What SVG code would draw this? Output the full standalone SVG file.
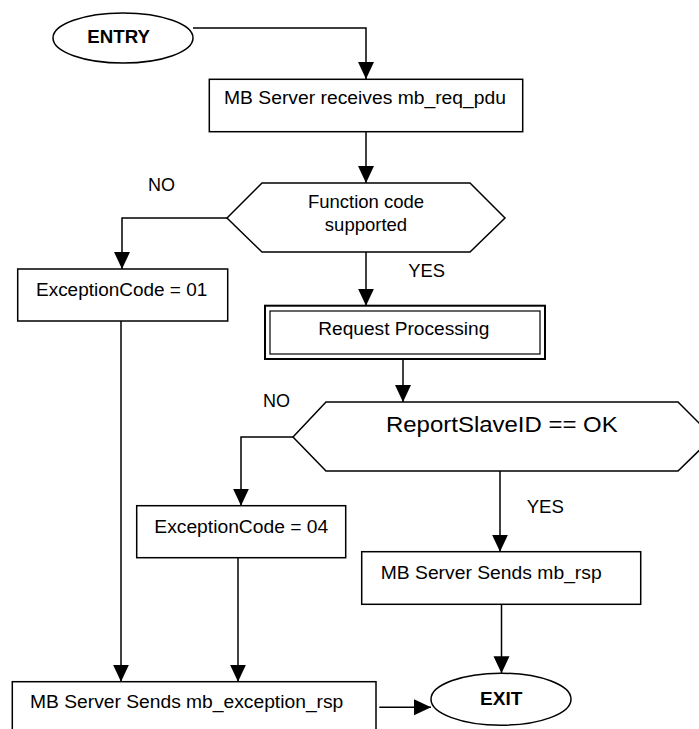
<svg xmlns="http://www.w3.org/2000/svg" width="699" height="729" viewBox="0 0 699 729">
<style>
  .shape { fill: #ffffff; stroke: #000000; stroke-width: 1.5; }
  .thick { fill: #ffffff; stroke: #000000; stroke-width: 2; }
  .thin { fill: none; stroke: #000000; stroke-width: 1.2; }
  .conn { fill: none; stroke: #000000; stroke-width: 1.5; marker-end: url(#arrow); }
  text { font-family: "Liberation Sans", Arial, sans-serif; font-size: 17.5px; fill: #000000; }
  .bold { font-weight: bold; }
  .big { font-size: 22px; }
  .mid { font-size: 18.5px; }
</style>
<defs>
  <marker id="arrow" markerUnits="userSpaceOnUse" markerWidth="18" markerHeight="18" refX="17" refY="8" orient="auto">
    <path d="M0,0 L17,8 L0,16 z" fill="#000000"/>
  </marker>
</defs>
<rect x="0" y="0" width="699" height="729" fill="#ffffff"/>

<g id="connectors">
  <path class="conn" d="M193,28 H366 V79"/>
  <path class="conn" d="M366,131.7 V183"/>
  <path class="conn" d="M227,218 H122 V269"/>
  <path class="conn" d="M366,252 V305.7"/>
  <path class="conn" d="M403,359 V402"/>
  <path class="conn" d="M293,437 H241 V505.7"/>
  <path class="conn" d="M500,471 V551.7"/>
  <path class="conn" d="M121,321 V681.7"/>
  <path class="conn" d="M238,557.7 V681.7"/>
  <path class="conn" d="M501.5,604.3 V673.3"/>
  <path class="conn" d="M379.3,707.3 H431"/>
</g>

<g id="entry">
  <ellipse class="shape" cx="123" cy="38" rx="70" ry="25"/>
  <text class="bold" x="87.3" y="43.3" textLength="62.7" lengthAdjust="spacingAndGlyphs">ENTRY</text>
</g>

<g id="receive">
  <rect class="shape" x="209.3" y="79.3" width="313.4" height="52.4"/>
  <text x="224" y="104.3" textLength="282" lengthAdjust="spacingAndGlyphs">MB Server receives mb_req_pdu</text>
</g>

<g id="function-check">
  <polygon class="shape" points="227,218 262,183 470,183 505,218 470,252 262,252"/>
  <text class="mid" x="366" y="208.3" text-anchor="middle">Function code</text>
  <text class="mid" x="366" y="231" text-anchor="middle">supported</text>
</g>

<g id="label-no-1"><text x="148" y="191" textLength="27" lengthAdjust="spacingAndGlyphs">NO</text></g>
<g id="label-yes-1"><text x="408.3" y="277.3" textLength="36.7" lengthAdjust="spacingAndGlyphs">YES</text></g>

<g id="exception-01">
  <rect class="shape" x="17.7" y="269" width="210" height="52"/>
  <text x="36" y="295.7" textLength="171.3" lengthAdjust="spacingAndGlyphs">ExceptionCode = 01</text>
</g>

<g id="request-processing">
  <rect class="thick" x="265" y="305.7" width="280" height="53.3"/>
  <rect class="thin" x="270" y="311" width="270" height="43"/>
  <text x="318.3" y="335" textLength="171" lengthAdjust="spacingAndGlyphs">Request Processing</text>
</g>

<g id="report-check">
  <polygon class="shape" points="293,437 326,402 678,402 713,437 678,471 326,471"/>
  <text class="big" x="386" y="431.7" textLength="231.7" lengthAdjust="spacingAndGlyphs">ReportSlaveID == OK</text>
</g>

<g id="label-no-2"><text x="263" y="407.3" textLength="27" lengthAdjust="spacingAndGlyphs">NO</text></g>
<g id="label-yes-2"><text x="526.7" y="513.3" textLength="37.3" lengthAdjust="spacingAndGlyphs">YES</text></g>

<g id="exception-04">
  <rect class="shape" x="136.7" y="505.7" width="209" height="52"/>
  <text x="154.3" y="533.3" textLength="174" lengthAdjust="spacingAndGlyphs">ExceptionCode = 04</text>
</g>

<g id="send-rsp">
  <rect class="shape" x="361.7" y="551.7" width="279" height="52.6"/>
  <text x="380.7" y="579" textLength="221" lengthAdjust="spacingAndGlyphs">MB Server Sends mb_rsp</text>
</g>

<g id="send-exception">
  <rect class="shape" x="12.3" y="681.7" width="363.7" height="60"/>
  <text x="30" y="708.3" textLength="313.3" lengthAdjust="spacingAndGlyphs">MB Server Sends mb_exception_rsp</text>
</g>

<g id="exit">
  <ellipse class="shape" cx="501" cy="699.2" rx="70" ry="26"/>
  <text class="bold" x="480" y="705" textLength="42.3" lengthAdjust="spacingAndGlyphs">EXIT</text>
</g>
</svg>
